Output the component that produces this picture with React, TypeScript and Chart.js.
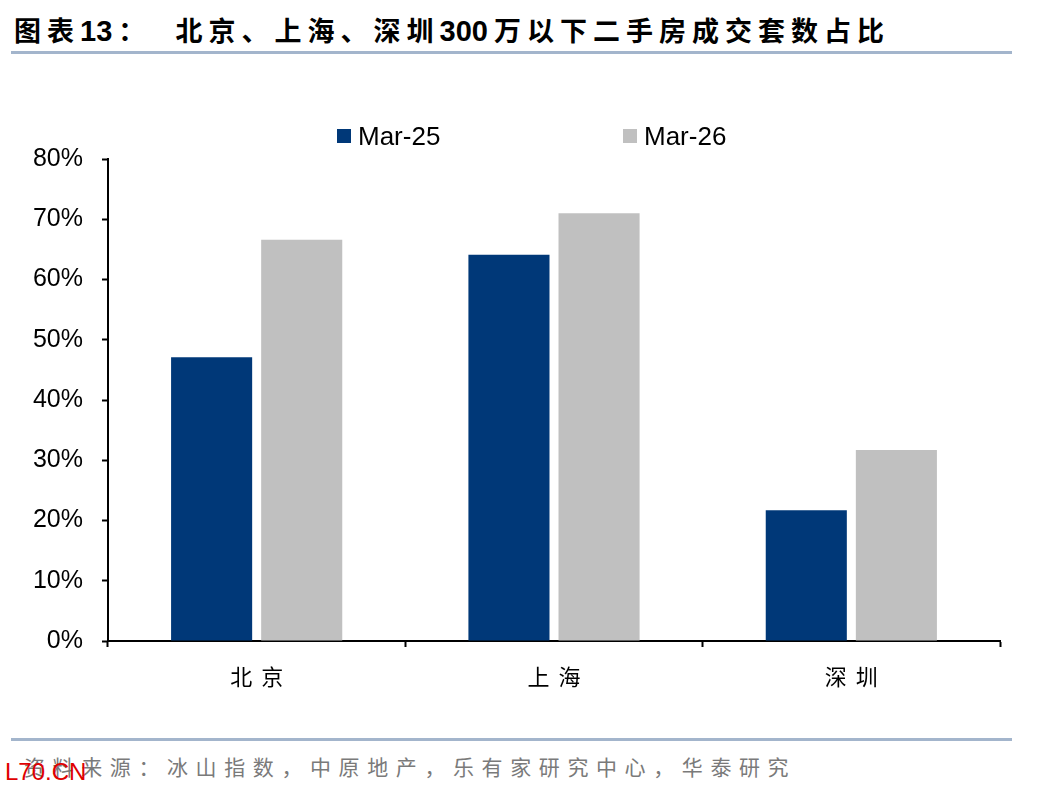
import React, { useEffect, useRef } from "react";
import { Chart, registerables } from "chart.js";

Chart.register(...registerables);

const categories = ["北京", "上海", "深圳"];
const seriesNames = ["Mar-25", "Mar-26"];
const mar25 = [47.1, 64.1, 21.7];
const mar26 = [66.6, 71.0, 31.7];
const colors = ["#003878", "#C0C0C0"];
const yTicks = [0, 10, 20, 30, 40, 50, 60, 70, 80];

const titleParts = ["图表", "13", "：  北京、上海、深圳", "300", "万以下二手房成交套数占比"];
const source = "资料来源：冰山指数，中原地产，乐有家研究中心，华泰研究";

const xLabelPlugin = {
  id: "xLabelPlugin",
  afterDraw(chart: any) {
    const ctx = chart.ctx as CanvasRenderingContext2D;
    const xs = chart.scales.x;
    ctx.save();
    ctx.font = "22px 'Noto Sans CJK SC'";
    ctx.fillStyle = "#000";
    ctx.textAlign = "center";
    ctx.textBaseline = "middle";
    (ctx as any).letterSpacing = "9px";
    categories.forEach((c, i) => {
      const x = xs.getPixelForValue(i);
      ctx.fillText(c, x + 4.5, chart.chartArea.bottom + 36);
    });
    ctx.restore();
  },
};

export default function App() {
  const ref = useRef<HTMLCanvasElement | null>(null);

  useEffect(() => {
    if (!ref.current) return;
    const chart = new Chart(ref.current, {
      type: "bar",
      data: {
        labels: categories,
        datasets: [
          { label: seriesNames[0], data: mar25, backgroundColor: colors[0], categoryPercentage: 0.606, barPercentage: 0.9 },
          { label: seriesNames[1], data: mar26, backgroundColor: colors[1], categoryPercentage: 0.606, barPercentage: 0.9 },
        ],
      },
      options: {
        animation: false,
        responsive: false,
        maintainAspectRatio: false,
        layout: { padding: { left: 0, right: 48, top: 59, bottom: 0 } },
        plugins: { legend: { display: false }, tooltip: { enabled: false } },
        scales: {
          x: {
            type: "category",
            offset: true,
            grid: { offset: true, drawOnChartArea: false, drawTicks: true, tickLength: 6, color: "#000", tickWidth: 2 },
            border: { color: "#000", width: 2 },
            ticks: { display: false },
            afterFit: (s: any) => { s.height = 59; },
          },
          y: {
            min: 0,
            max: 80,
            afterBuildTicks: (s: any) => { s.ticks = yTicks.map((v) => ({ value: v })); },
            grid: { drawOnChartArea: false, drawTicks: true, tickLength: 6, color: "#000", tickWidth: 2 },
            border: { color: "#000", width: 2 },
            ticks: {
              color: "#000",
              font: { family: "'Liberation Sans', Arial", size: 25 },
              padding: 19,
              callback: (v: any) => v + "%",
            },
            afterFit: (s: any) => { s.width = 108; },
          },
        },
      },
      plugins: [xLabelPlugin],
    });
    return () => chart.destroy();
  }, []);

  const lineStyle: React.CSSProperties = {
    position: "absolute",
    left: 11,
    width: 1001,
    height: 3,
    background: "#A3B5CC",
  };

  return (
    <div style={{ position: "absolute", left: 0, top: 0, width: 1048, height: 792, background: "#fff", overflow: "hidden" }}>
      <div
        style={{
          position: "absolute",
          left: 14,
          top: 12,
          fontFamily: "'Noto Sans CJK SC', sans-serif",
          fontWeight: 700,
          fontSize: 27,
          lineHeight: "36px",
          whiteSpace: "pre",
          color: "#000",
        }}
      >
        {titleParts.map((p, i) =>
          i % 2 === 1 ? (
            <span key={i} style={{ fontFamily: "'Liberation Sans', Arial", fontSize: 29, letterSpacing: 0, marginRight: 6 }}>{p}</span>
          ) : (
            <span key={i} style={{ letterSpacing: 6 }}>{p}</span>
          )
        )}
      </div>
      <div style={{ ...lineStyle, top: 51 }} />
      <div style={{ position: "absolute", left: 0, top: 100, width: 1048, height: 600 }}>
        <canvas ref={ref} width={1048} height={600} style={{ width: 1048, height: 600 }} />
      </div>
      {seriesNames.map((n, i) => (
        <div key={n} style={{ position: "absolute", left: i === 0 ? 337 : 623, top: 120, display: "flex", alignItems: "center", height: 32 }}>
          <div style={{ width: 14, height: 14, background: colors[i], marginRight: 7 }} />
          <span style={{ fontFamily: "'Liberation Sans', Arial", fontSize: 26, color: "#000" }}>{n}</span>
        </div>
      ))}
      <div style={{ ...lineStyle, top: 738 }} />
      <div
        style={{
          position: "absolute",
          left: 24,
          top: 750,
          fontFamily: "'Noto Sans CJK SC', sans-serif",
          fontSize: 21,
          letterSpacing: 7.6,
          lineHeight: "32px",
          color: "#7a7a7a",
          whiteSpace: "pre",
        }}
      >
        {source}
      </div>
      <div
        style={{
          position: "absolute",
          left: 5,
          top: 756,
          fontFamily: "'Liberation Sans', Arial",
          fontSize: 24,
          lineHeight: "32px",
          color: "#e00000",
        }}
      >
        L70.CN
      </div>
    </div>
  );
}
